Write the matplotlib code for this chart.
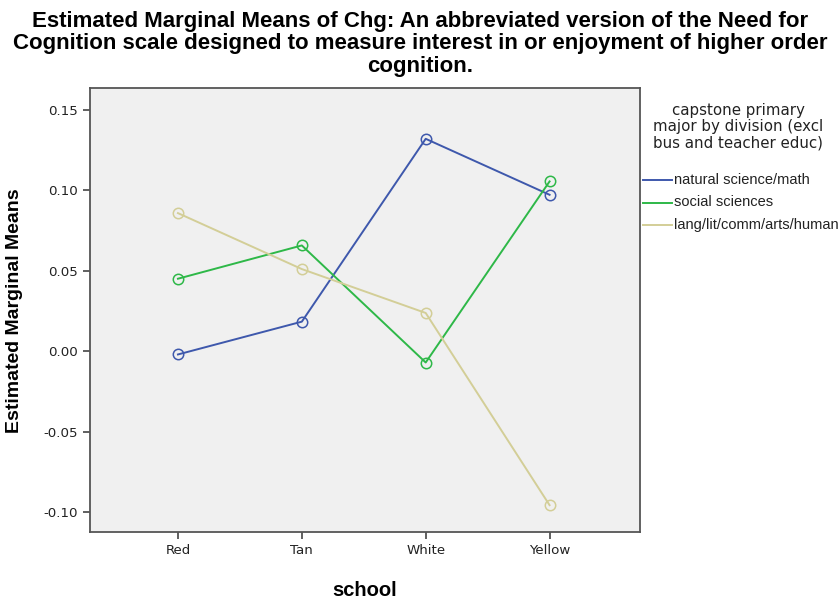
import matplotlib

matplotlib.use("Agg")
import matplotlib.pyplot as plt
from matplotlib.lines import Line2D

# Estimated marginal means
schools = ["Red", "Tan", "White", "Yellow"]
natural_science = [-0.002, 0.0184, 0.1321, 0.0973]
social_sciences = [0.0451, 0.0658, -0.007, 0.1056]
humanities = [0.0859, 0.0511, 0.0238, -0.0957]

series_names = ["natural science/math", "social sciences", "lang/lit/comm/arts/human"]
series_colors = ["#3e58ac", "#2eb848", "#d3ce97"]
y_ticks = [0.15, 0.10, 0.05, 0.00, -0.05, -0.10]

plt.rcParams["font.family"] = ["Liberation Sans", "DejaVu Sans"]
small = ["DejaVu Sans"]

fig = plt.figure(figsize=(8.4, 5.99), dpi=100)
ax = fig.add_axes([90 / 840, 1 - 532 / 599, 550 / 840, 444 / 599])
ax.set_facecolor("#f0f0f0")

x = range(len(schools))
for vals, name, color in zip([natural_science, social_sciences, humanities],
                             series_names, series_colors):
    ax.plot(x, vals, color=color, lw=1.4, marker="o", markersize=7.5,
            markerfacecolor="none", markeredgecolor=color, markeredgewidth=1.1,
            label=name)

ax.set_xlim(-0.71, 3.73)
ax.set_ylim(-0.1124, 0.1637)
ax.set_xticks(list(x))
ax.set_xticklabels(schools, fontsize=9.6, family=small, color="#222222")
ax.set_yticks(y_ticks)
ax.set_yticklabels([f"{v:.2f}" for v in y_ticks], fontsize=9.6, family=small,
                   color="#222222")
ax.tick_params(direction="out", length=5, color="#444444", width=1.2, pad=4)
for s in ax.spines.values():
    s.set_color("#555555")
    s.set_linewidth(1.3)

fig.text(0.5, 1 - 44 / 599,
         "Estimated Marginal Means of Chg: An abbreviated version of the Need for\n"
         "Cognition scale designed to measure interest in or enjoyment of higher order\n"
         "cognition.",
         ha="center", va="center", fontsize=16, fontweight="bold", linespacing=1.07)
fig.text(15 / 840, 1 - 311 / 599, "Estimated Marginal Means", rotation=90,
         ha="center", va="center", fontsize=14, fontweight="bold")
fig.text(365 / 840, 1 - 591 / 599, "school", ha="center", va="center",
         fontsize=14.5, fontweight="bold")

# legend drawn by hand to the right of the axes
fig.text(738 / 840, 1 - 127 / 599,
         "capstone primary\nmajor by division (excl\nbus and teacher educ)",
         ha="center", va="center", fontsize=10.8, family=small, linespacing=1.1,
         color="#222222")
for i, (name, color) in enumerate(zip(series_names, series_colors)):
    yy = 1 - (180 + i * 22.5) / 599
    fig.add_artist(Line2D([643 / 840, 672 / 840], [yy, yy], color=color, lw=1.4))
    fig.text(674 / 840, yy, name, ha="left", va="center", fontsize=10.5,
             color="#222222")

fig.savefig("out.png", dpi=100)
